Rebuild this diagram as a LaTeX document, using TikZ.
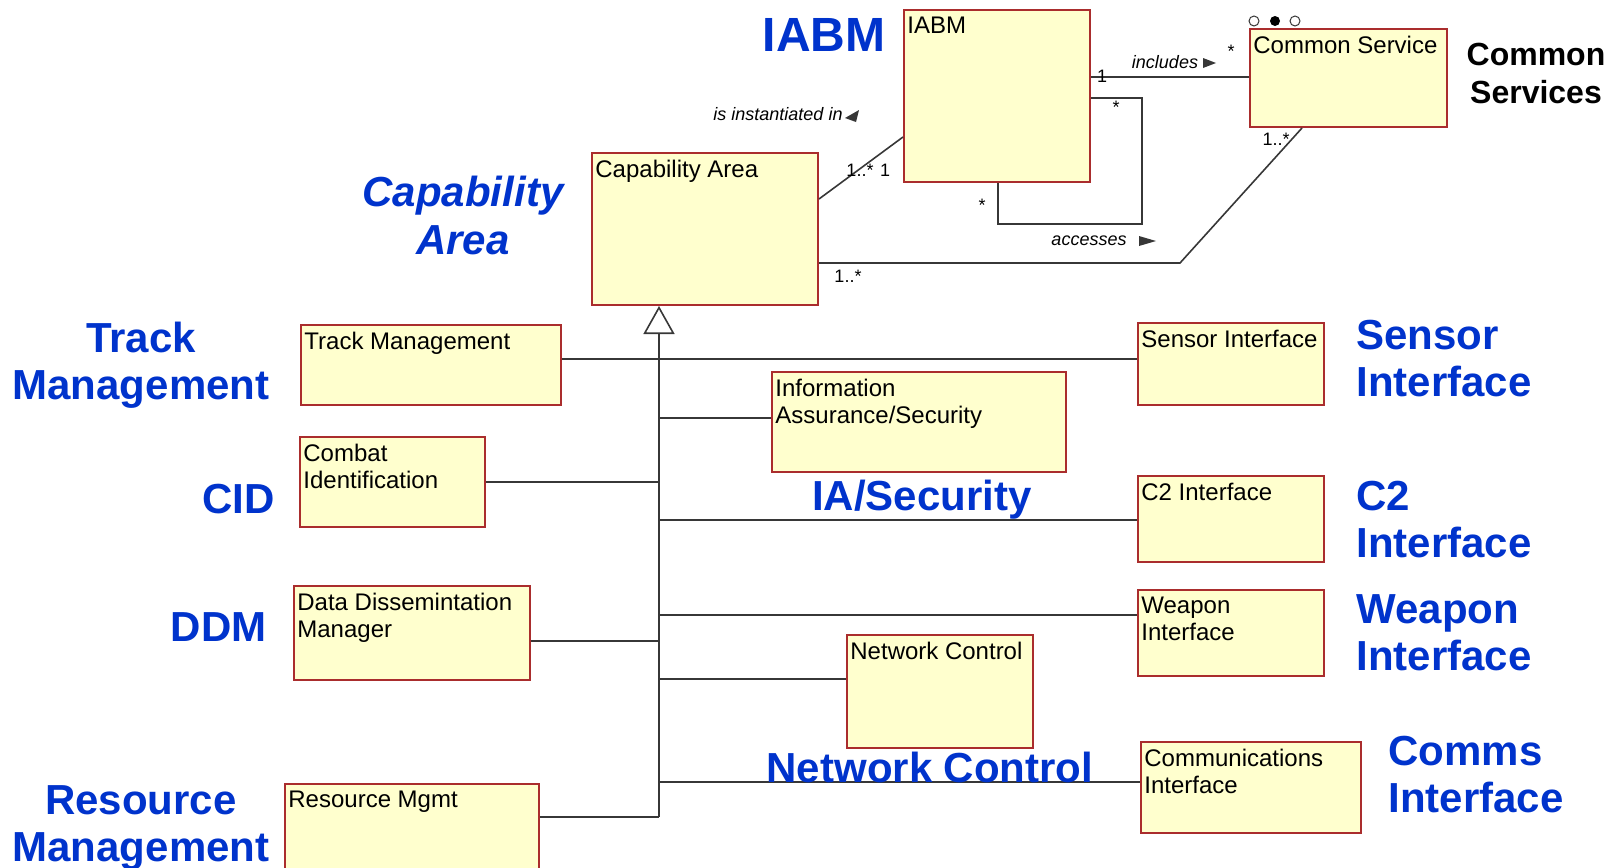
\documentclass[tikz,border=0pt]{standalone}
\usepackage{fontspec}
\setmainfont{Liberation Sans}
\usetikzlibrary{arrows.meta,fit}

\definecolor{clsfill}{RGB}{255,255,206}
\definecolor{clsdraw}{RGB}{170,45,45}
\definecolor{lblblue}{RGB}{0,51,204}
\definecolor{wiregray}{RGB}{55,55,55}

\begin{document}
\begin{tikzpicture}[x=0.5pt,y=-0.5pt,
	cls/.style={draw=clsdraw,fill=clsfill,line width=1pt,inner sep=0pt},
	clstxt/.style={anchor=north west,inner xsep=2pt,inner ysep=4pt,align=left,font=\fontsize{12}{13.3}\selectfont},
	big/.style={text=lblblue,inner sep=0pt,font=\fontsize{21}{23.5}\selectfont\bfseries},
	wire/.style={draw=wiregray,line width=0.8pt},
	mult/.style={inner sep=0pt,font=\fontsize{9}{10}\selectfont},
	role/.style={inner sep=0pt,font=\fontsize{9}{10}\selectfont\itshape}]
	\useasboundingbox (0,0) rectangle (1619,868);
	\clip (0,0) rectangle (1619,868);

	% classes
	\node[cls,fit={(904,10) (1090,182)}] (iabm) {};
	\node[clstxt] at (iabm.north west) {IABM};
	\node[cls,fit={(1250,29) (1447,127)}] (cs) {};
	\node[clstxt] at (cs.north west) {Common Service};
	\node[cls,fit={(592,153) (818,305)}] (ca) {};
	\node[clstxt] at (ca.north west) {Capability Area};
	\node[cls,fit={(301,325) (561,405)}] (tm) {};
	\node[clstxt] at (tm.north west) {Track Management};
	\node[cls,fit={(1138,323) (1324,405)}] (si) {};
	\node[clstxt] at (si.north west) {Sensor Interface};
	\node[cls,fit={(772,372) (1066,472)}] (ia) {};
	\node[clstxt] at (ia.north west) {Information\\Assurance/Security};
	\node[cls,fit={(300,437) (485,527)}] (cid) {};
	\node[clstxt] at (cid.north west) {Combat\\Identification};
	\node[cls,fit={(1138,476) (1324,562)}] (c2) {};
	\node[clstxt] at (c2.north west) {C2 Interface};
	\node[cls,fit={(294,586) (530,680)}] (ddm) {};
	\node[clstxt] at (ddm.north west) {Data Dissemintation\\Manager};
	\node[cls,fit={(1138,590) (1324,676)}] (wi) {};
	\node[clstxt] at (wi.north west) {Weapon\\Interface};
	\node[cls,fit={(847,635) (1033,748)}] (nc) {};
	\node[clstxt] at (nc.north west) {Network Control};
	\node[cls,fit={(1141,742) (1361,833)}] (ci) {};
	\node[clstxt] at (ci.north west) {Communications\\Interface};
	\node[cls,fit={(285,784) (539,880)}] (rm) {};
	\node[clstxt] at (rm.north west) {Resource Mgmt};

	% generalization tree
	\coordinate (trunk) at (659,817);
	\draw[wire,-{Triangle[open,length=14pt,width=15.5pt]}] (trunk) -- (trunk |- ca.south);
	\draw[wire] (tm.east |- 0,359) -- (si.west |- 0,359);
	\draw[wire] (trunk |- 0,418) -- (ia.west |- 0,418);
	\draw[wire] (cid.east |- 0,482) -- (trunk |- 0,482);
	\draw[wire] (trunk |- 0,520) -- (c2.west |- 0,520);
	\draw[wire] (trunk |- 0,615) -- (wi.west |- 0,615);
	\draw[wire] (ddm.east |- 0,641) -- (trunk |- 0,641);
	\draw[wire] (trunk |- 0,679) -- (nc.west |- 0,679);
	\draw[wire] (trunk |- 0,782) -- (ci.west |- 0,782);
	\draw[wire] (rm.east |- 0,817) -- (trunk);

	% associations
	\draw[wire] (ca.east |- 0,199) -- (iabm.west |- 0,137);
	\draw[wire] (iabm.east |- 0,77) -- (cs.west |- 0,77);
	\draw[wire] (iabm.east |- 0,98) -| (1142,224) -| (iabm.south -| 998,0);
	\draw[wire] (ca.east |- 0,263) -- (1180,263) -- (cs.south -| 1302,0);

	\node[mult] at (860,170) {1..*};
	\node[mult] at (885,170) {1};
	\node[role] at (778,114) {is instantiated in};
	\fill[wiregray] (845,118) -- (859,110) -- (856,122) -- cycle;
	\node[mult] at (1102,76) {1};
	\node[role] at (1165,62) {includes};
	\fill[wiregray] (1203,58) -- (1216,63) -- (1203,68) -- cycle;
	\node[mult] at (1231,51) {*};
	\node[mult] at (1116,107) {*};
	\node[mult] at (982,205) {*};
	\node[role] at (1089,241) {accesses};
	\fill[wiregray] (1139,236) -- (1156,241) -- (1139,246) -- cycle;
	\node[mult] at (848,276) {1..*};
	\node[mult] at (1276,139) {1..*};

	% stereotype dots
	\draw[wiregray,line width=0.5pt] (1254,21) circle (5);
	\fill[black] (1275,21) circle (5);
	\draw[wiregray,line width=0.5pt] (1295,21) circle (5);

	% callouts
	\node[big,anchor=base,font=\fontsize{24}{26}\selectfont\bfseries] at (824,51) {IABM};
	\node[big,anchor=north,align=center,font=\fontsize{21}{24}\selectfont\bfseries\itshape] at (463,176) {Capability\\Area};
	\node[anchor=north,align=center,inner sep=0pt,font=\fontsize{16}{19}\selectfont\bfseries] at (1536,43) {Common\\Services};
	\node[big,anchor=north,align=center] at (141,322) {Track\\Management};
	\node[big,anchor=north west,align=left] at (1356,320) {Sensor\\Interface};
	\node[big,anchor=base] at (922,510) {IA/Security};
	\node[big,anchor=base east] at (275,513) {CID};
	\node[big,anchor=north west,align=left] at (1356,481) {C2\\Interface};
	\node[big,anchor=base east] at (267,641) {DDM};
	\node[big,anchor=north west,align=left] at (1356,594) {Weapon\\Interface};
	\node[big,anchor=base] at (930,782) {Network Control};
	\node[big,anchor=north west,align=left] at (1388,736) {Comms\\Interface};
	\node[big,anchor=north,align=center] at (141,785) {Resource\\Management};
\end{tikzpicture}
\end{document}
